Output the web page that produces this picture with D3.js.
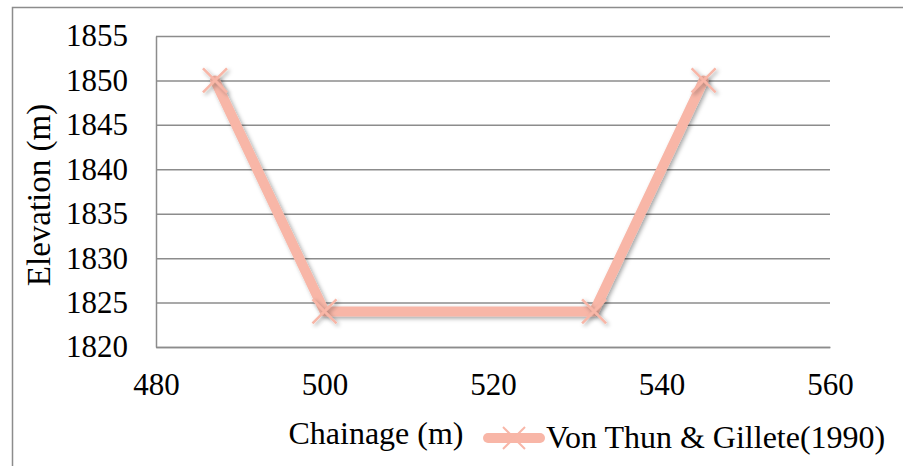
<!DOCTYPE html>
<html lang="en">
<head>
  <meta charset="UTF-8">
  <title>Elevation vs Chainage</title>
  <script src="https://d3js.org/d3.v7.min.js"></script>
  <style>
    * { margin: 0; padding: 0; box-sizing: border-box; }
    body { background: #fff; }
  </style>
</head>
<body>
  <div id="chart"></div>

  <script>
    // data
    const chainage = [487, 500, 532, 545];
    const elevation = [1850, 1824, 1824, 1850];
    const xTicks = [480, 500, 520, 540, 560];
    const yTicks = [1820, 1825, 1830, 1835, 1840, 1845, 1850, 1855];
    const seriesName = "Von Thun & Gillete(1990)";

    const W = 903, H = 466;
    const margin = {top: 36, right: 73, bottom: 119, left: 156},
          width = W - margin.left - margin.right,
          height = H - margin.top - margin.bottom;

    const FONT = "Liberation Serif";
    const lineColor = "#f8b6a7";
    const gridColor = "#8c8c8c";

    const root = d3.select("#chart")
                   .append("svg")
                   .attr("width", W)
                   .attr("height", H)
                   .attr("font-family", FONT);

    const defs = root.append("defs");
    const shadow = defs.append("filter")
                       .attr("id", "shadow")
                       .attr("x", "-50%").attr("y", "-50%")
                       .attr("width", "200%").attr("height", "200%");
    shadow.append("feDropShadow")
          .attr("dx", 2).attr("dy", 2)
          .attr("stdDeviation", 2)
          .attr("flood-color", "#000")
          .attr("flood-opacity", 0.35);

    // outer chart border (right/bottom fall outside the picture)
    root.append("rect")
        .attr("x", 12.5).attr("y", 7.5)
        .attr("width", W + 20).attr("height", H + 20)
        .attr("fill", "none")
        .attr("stroke", gridColor)
        .attr("stroke-width", 1.5);

    const svg = root.append("g")
                    .attr("transform", `translate(${margin.left},${margin.top})`);

    const x = d3.scaleLinear()
                .domain([480, 560])
                .range([0, width]);

    const y = d3.scaleLinear()
                .domain([1820, 1855])
                .range([height, 0]);

    // horizontal gridlines
    svg.append("g")
       .attr("class", "grid")
       .call(d3.axisLeft(y)
               .tickValues(yTicks)
               .tickSize(-width)
               .tickFormat(""))
       .call(g => g.select(".domain").remove())
       .selectAll("line")
       .attr("stroke", gridColor)
       .attr("stroke-width", 1.5);

    // left axis line + labels
    svg.append("g")
       .call(d3.axisLeft(y)
               .tickValues(yTicks)
               .tickSize(0)
               .tickPadding(28)
               .tickFormat(d3.format("d")))
       .attr("font-family", FONT)
       .attr("font-size", 31)
       .call(g => g.select(".domain").attr("stroke", gridColor).attr("stroke-width", 1.5))
       .selectAll("text").attr("fill", "#000");

    // bottom axis line + labels
    svg.append("g")
       .attr("transform", `translate(0, ${height})`)
       .call(d3.axisBottom(x)
               .tickValues(xTicks)
               .tickSize(0)
               .tickPadding(26)
               .tickFormat(d3.format("d")))
       .attr("font-family", FONT)
       .attr("font-size", 31)
       .call(g => g.select(".domain").attr("stroke", gridColor).attr("stroke-width", 1.5))
       .selectAll("text").attr("fill", "#000");

    const points = chainage.map((c, i) => ({x: c, y: elevation[i]}));

    const line = d3.line()
                   .x(d => x(d.x))
                   .y(d => y(d.y));

    svg.append("path")
       .datum(points)
       .attr("d", line)
       .attr("fill", "none")
       .attr("stroke", lineColor)
       .attr("stroke-width", 10)
       .attr("stroke-linejoin", "round")
       .attr("stroke-linecap", "round")
       .attr("filter", "url(#shadow)");

    // X markers
    function drawCross(g, r, w) {
      g.append("line").attr("x1", -r).attr("y1", -r).attr("x2", r).attr("y2", r);
      g.append("line").attr("x1", -r).attr("y1", r).attr("x2", r).attr("y2", -r);
      g.selectAll("line").attr("stroke", lineColor).attr("stroke-width", w);
    }

    svg.selectAll(".xmark")
       .data(points)
       .enter()
       .append("g")
       .attr("class", "xmark")
       .attr("transform", d => `translate(${x(d.x)},${y(d.y)})`)
       .attr("filter", "url(#shadow)")
       .each(function() { drawCross(d3.select(this), 12, 2.5); });

    // y axis title
    root.append("text")
        .attr("transform", `translate(50, 195) rotate(-90)`)
        .attr("text-anchor", "middle")
        .attr("font-size", 33)
        .text("Elevation (m)");

    // x axis title
    root.append("text")
        .attr("x", 376)
        .attr("y", 444)
        .attr("text-anchor", "middle")
        .attr("font-size", 32)
        .text("Chainage (m)");

    // legend
    const legend = root.append("g")
                       .attr("transform", "translate(484, 438)");
    legend.append("line")
          .attr("x1", 4).attr("x2", 56)
          .attr("y1", 0).attr("y2", 0)
          .attr("stroke", lineColor)
          .attr("stroke-width", 10)
          .attr("stroke-linecap", "round");
    legend.append("g")
          .attr("transform", "translate(30,0)")
          .each(function() { drawCross(d3.select(this), 11, 2); });
    legend.append("text")
          .attr("x", 62)
          .attr("y", 10)
          .attr("font-size", 32)
          .text(seriesName);
  </script>
</body>
</html>
